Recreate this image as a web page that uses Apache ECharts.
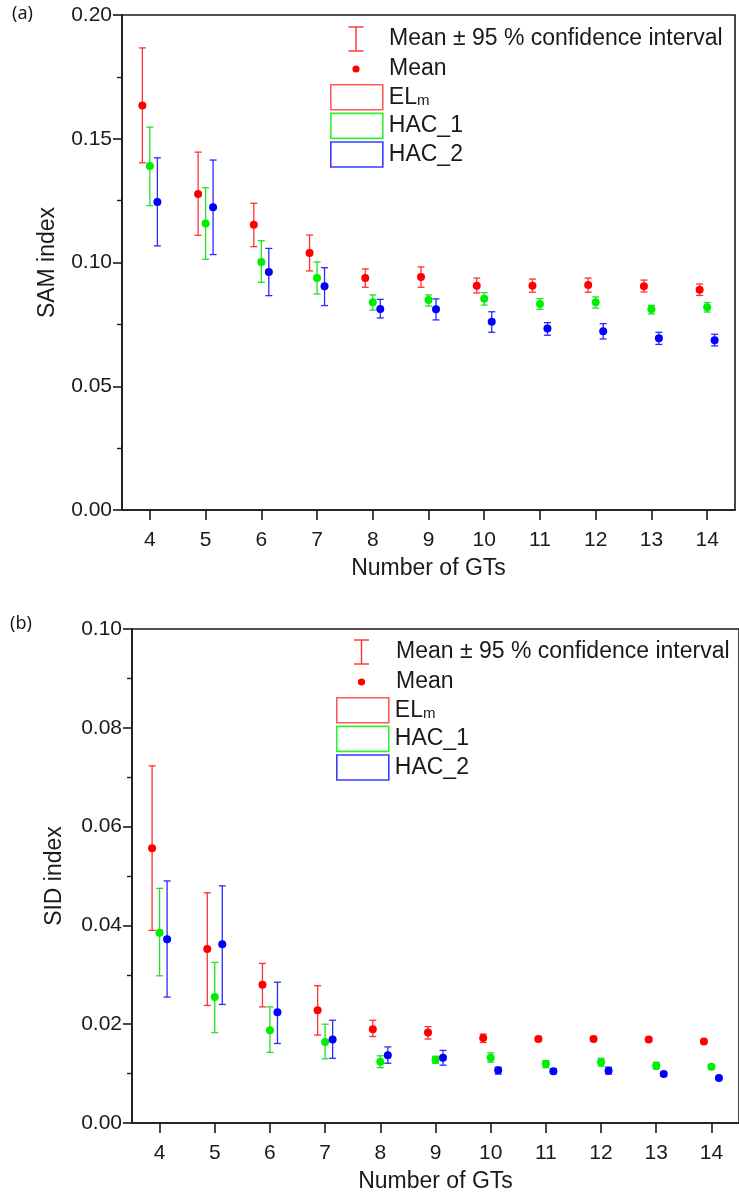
<!DOCTYPE html>
<html>
<head>
<meta charset="utf-8">
<script src="https://cdn.jsdelivr.net/npm/echarts@6/dist/echarts.min.js"></script>
<style>
  html, body { margin: 0; padding: 0; background: #ffffff; }
  #chart { width: 739px; height: 1198px; }
</style>
</head>
<body>
<div id="chart"></div>
<script>
// Number of ground-truth classes on the x axis
const gts = [4, 5, 6, 7, 8, 9, 10, 11, 12, 13, 14];

// Panel (a): SAM index, mean and 95 % confidence bounds
const samElmMean  = [0.1634, 0.1277, 0.1153, 0.1038, 0.0937, 0.0941, 0.0906, 0.0906, 0.0909, 0.0904, 0.0890];
const samElmLow   = [0.1403, 0.1110, 0.1064, 0.0966, 0.0900, 0.0900, 0.0877, 0.0880, 0.0880, 0.0881, 0.0867];
const samElmHigh  = [0.1867, 0.1446, 0.1239, 0.1111, 0.0974, 0.0982, 0.0937, 0.0933, 0.0937, 0.0929, 0.0913];
const samHac1Mean = [0.1390, 0.1158, 0.1002, 0.0937, 0.0839, 0.0848, 0.0854, 0.0832, 0.0839, 0.0811, 0.0819];
const samHac1Low  = [0.1230, 0.1013, 0.0920, 0.0873, 0.0808, 0.0824, 0.0828, 0.0811, 0.0816, 0.0792, 0.0800];
const samHac1High = [0.1547, 0.1302, 0.1088, 0.1002, 0.0869, 0.0869, 0.0878, 0.0854, 0.0861, 0.0827, 0.0838];
const samHac2Mean = [0.1244, 0.1223, 0.0962, 0.0904, 0.0812, 0.0811, 0.0761, 0.0733, 0.0722, 0.0694, 0.0686];
const samHac2Low  = [0.1067, 0.1032, 0.0866, 0.0826, 0.0776, 0.0768, 0.0718, 0.0706, 0.0691, 0.0669, 0.0663];
const samHac2High = [0.1423, 0.1414, 0.1057, 0.0979, 0.0851, 0.0853, 0.0801, 0.0757, 0.0753, 0.0718, 0.0710];

// Panel (b): SID index, mean and 95 % confidence bounds
const sidElmMean  = [0.0556, 0.0352, 0.0280, 0.0228, 0.0190, 0.0183, 0.0172, 0.0170, 0.0170, 0.0169, 0.0165];
const sidElmLow   = [0.0390, 0.0238, 0.0235, 0.0178, 0.0175, 0.0170, 0.0163, 0.0166, 0.0166, 0.0165, 0.0162];
const sidElmHigh  = [0.0723, 0.0466, 0.0323, 0.0278, 0.0208, 0.0195, 0.0180, 0.0175, 0.0175, 0.0173, 0.0168];
const sidHac1Mean = [0.0385, 0.0255, 0.0188, 0.0164, 0.0124, 0.0128, 0.0132, 0.0120, 0.0123, 0.0116, 0.0114];
const sidHac1Low  = [0.0298, 0.0183, 0.0143, 0.0130, 0.0112, 0.0121, 0.0123, 0.0112, 0.0115, 0.0109, 0.0110];
const sidHac1High = [0.0475, 0.0325, 0.0235, 0.0200, 0.0136, 0.0135, 0.0142, 0.0126, 0.0131, 0.0123, 0.0118];
const sidHac2Mean = [0.0372, 0.0362, 0.0224, 0.0169, 0.0137, 0.0132, 0.0107, 0.0105, 0.0106, 0.0099, 0.0091];
const sidHac2Low  = [0.0255, 0.0240, 0.0161, 0.0131, 0.0121, 0.0117, 0.0099, 0.0100, 0.0099, 0.0095, 0.0089];
const sidHac2High = [0.0490, 0.0480, 0.0285, 0.0208, 0.0154, 0.0147, 0.0113, 0.0110, 0.0113, 0.0103, 0.0093];

// Axis tick values
const samTicks = [0, 0.05, 0.10, 0.15, 0.20];
const sidTicks = [0, 0.02, 0.04, 0.06, 0.08, 0.10];

const FONT = '"Liberation Sans", Arial, sans-serif';
const INK = '#1a1a1a';
const methods = [
  { name: 'ELm',   color: '#ff0000', bar: '#ff3030', box: '#ff5a5a', dx: -7.5 },
  { name: 'HAC_1', color: '#00ee00', bar: '#22e022', box: '#33ee33', dx: 0 },
  { name: 'HAC_2', color: '#0000ff', bar: '#2a2aff', box: '#3a3aff', dx: 7.5 }
];

const chart = echarts.init(document.getElementById('chart'), null, { renderer: 'canvas' });

// Vertical error bar with caps, nudged sideways so the three methods don't overlap
function errorBar(dx, color) {
  return function (params, api) {
    const x = api.value(0);
    const lo = api.coord([x, api.value(1)]);
    const hi = api.coord([x, api.value(2)]);
    const px = lo[0] + dx;
    const cap = 3.5;
    const style = { stroke: color, lineWidth: 1.3, fill: null };
    return {
      type: 'group',
      children: [
        { type: 'line', shape: { x1: px, y1: lo[1], x2: px, y2: hi[1] }, style: style },
        { type: 'line', shape: { x1: px - cap, y1: hi[1], x2: px + cap, y2: hi[1] }, style: style },
        { type: 'line', shape: { x1: px - cap, y1: lo[1], x2: px + cap, y2: lo[1] }, style: style }
      ]
    };
  };
}

function panelSeries(axisIndex, groups) {
  const out = [];
  groups.forEach(function (g, k) {
    const m = methods[k];
    out.push({
      name: m.name,
      type: 'custom',
      xAxisIndex: axisIndex,
      yAxisIndex: axisIndex,
      renderItem: errorBar(m.dx, m.bar),
      encode: { x: 0, y: [1, 2] },
      itemStyle: { color: m.color },
      silent: true,
      z: 2,
      data: gts.map(function (v, i) { return [v, g.low[i], g.high[i]]; })
    });
    out.push({
      name: m.name,
      type: 'scatter',
      xAxisIndex: axisIndex,
      yAxisIndex: axisIndex,
      symbol: 'circle',
      symbolSize: 8,
      symbolOffset: [m.dx, 0],
      itemStyle: { color: m.color, opacity: 1 },
      silent: true,
      z: 3,
      data: gts.map(function (v, i) { return [v, g.mean[i]]; })
    });
  });
  return out;
}

function xAxisFor(gridIndex) {
  return {
    type: 'value',
    gridIndex: gridIndex,
    min: 3.5,
    max: 14.5,
    name: 'Number of GTs',
    nameLocation: 'middle',
    nameGap: 47,
    nameTextStyle: { fontFamily: FONT, fontSize: 23, color: INK },
    axisLine: { show: true, onZero: false, lineStyle: { color: INK, width: 1.6 } },
    axisTick: { show: true, length: 10, customValues: gts, lineStyle: { color: INK, width: 1.6 } },
    axisLabel: { customValues: gts, margin: 20, fontFamily: FONT, fontSize: 21, color: INK },
    splitLine: { show: false }
  };
}

function yAxisFor(gridIndex, name, ticks, gap) {
  return {
    type: 'value',
    gridIndex: gridIndex,
    min: ticks[0],
    max: ticks[ticks.length - 1],
    interval: ticks[1] - ticks[0],
    name: name,
    nameLocation: 'middle',
    nameGap: gap,
    nameTextStyle: { fontFamily: FONT, fontSize: 23, color: INK },
    axisLine: { show: true, lineStyle: { color: INK, width: 1.6 } },
    axisTick: { show: true, length: 9, lineStyle: { color: INK, width: 1.6 } },
    minorTick: { show: true, splitNumber: 2, length: 5, lineStyle: { color: INK, width: 1.4 } },
    axisLabel: { margin: 10, fontFamily: FONT, fontSize: 21, color: INK,
      formatter: function (v) { return v.toFixed(2); } },
    splitLine: { show: false }
  };
}

function legendFor(left, top) {
  return {
    orient: 'vertical',
    left: left,
    top: top,
    padding: 0,
    itemWidth: 52,
    itemHeight: 25,
    itemGap: 2,
    selectedMode: false,
    textStyle: {
      fontFamily: FONT, fontSize: 23, color: INK, lineHeight: 25, padding: [0, 0, 0, 1],
      rich: {
        main: { fontFamily: FONT, fontSize: 23, color: INK, lineHeight: 25 },
        sub: { fontFamily: FONT, fontSize: 15, color: INK, lineHeight: 25, padding: [7, 0, 0, 0] }
      }
    },
    formatter: function (name) { return name === 'ELm' ? '{main|EL}{sub|m}' : name; },
    data: methods.map(function (m) {
      return { name: m.name, icon: 'rect',
        itemStyle: { color: 'rgba(0,0,0,0)', borderColor: m.box, borderWidth: 1.6 } };
    })
  };
}

// Error-bar and mean-marker keys drawn above each panel's method legend
function keyGraphics(cx, top, textX) {
  const red = '#ff3030';
  const s = { stroke: red, lineWidth: 1.4 };
  return [
    { type: 'line', shape: { x1: cx, y1: top, x2: cx, y2: top + 24 }, style: s },
    { type: 'line', shape: { x1: cx - 7.5, y1: top, x2: cx + 7.5, y2: top }, style: s },
    { type: 'line', shape: { x1: cx - 7.5, y1: top + 24, x2: cx + 7.5, y2: top + 24 }, style: s },
    { type: 'circle', shape: { cx: cx, cy: top + 42, r: 3.6 }, style: { fill: '#ff0000' } },
    { type: 'text', x: textX, y: top + 12,
      style: { text: 'Mean \u00b1 95 % confidence interval', fill: INK, font: '23px ' + FONT, verticalAlign: 'middle' } },
    { type: 'text', x: textX, y: top + 42,
      style: { text: 'Mean', fill: INK, font: '23px ' + FONT, verticalAlign: 'middle' } }
  ];
}

const option = {
  animation: false,
  backgroundColor: '#ffffff',
  grid: [
    { left: 122, top: 15, width: 613, height: 495, show: true, borderColor: INK, borderWidth: 1.6, backgroundColor: 'rgba(0,0,0,0)' },
    { left: 132, top: 629, width: 616, height: 494, show: true, borderColor: INK, borderWidth: 1.6, backgroundColor: 'rgba(0,0,0,0)' }
  ],
  xAxis: [xAxisFor(0), xAxisFor(1)],
  yAxis: [yAxisFor(0, 'SAM index', samTicks, 63), yAxisFor(1, 'SID index', sidTicks, 66)],
  legend: [legendFor(330, 84), legendFor(336, 697)],
  graphic: [
    { type: 'text', left: 12, top: 5, style: { text: '(a)', fill: INK, font: '18px "Noto Sans", sans-serif' } },
    { type: 'text', left: 10, top: 615, style: { text: '(b)', fill: INK, font: '18px "Noto Sans", sans-serif' } }
  ].concat(keyGraphics(356, 27, 389), keyGraphics(361.5, 640, 396)),
  series: panelSeries(0, [
    { mean: samElmMean, low: samElmLow, high: samElmHigh },
    { mean: samHac1Mean, low: samHac1Low, high: samHac1High },
    { mean: samHac2Mean, low: samHac2Low, high: samHac2High }
  ]).concat(panelSeries(1, [
    { mean: sidElmMean, low: sidElmLow, high: sidElmHigh },
    { mean: sidHac1Mean, low: sidHac1Low, high: sidHac1High },
    { mean: sidHac2Mean, low: sidHac2Low, high: sidHac2High }
  ]))
};

chart.setOption(option);
</script>
</body>
</html>
